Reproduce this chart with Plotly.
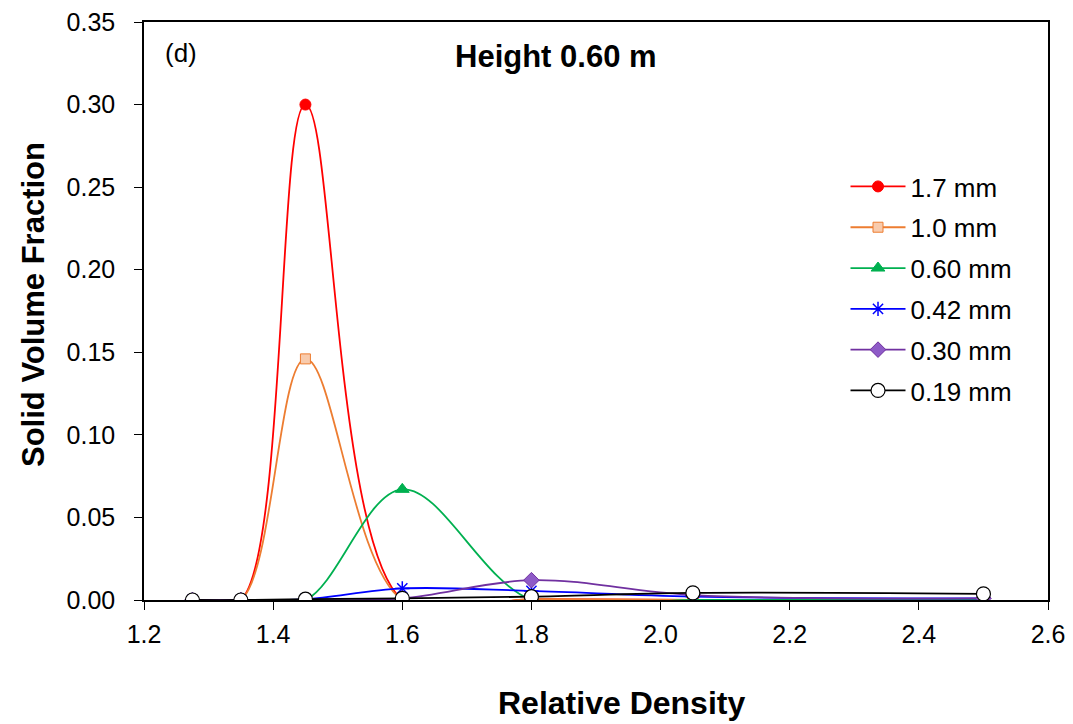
import plotly.graph_objects as go

density = [1.275, 1.35, 1.45, 1.6, 1.8, 2.05, 2.5]
labels = ["1.7 mm", "1.0 mm", "0.60 mm", "0.42 mm", "0.30 mm", "0.19 mm"]
s_17 = [0.0, 0.0, 0.300, 0.0, 0.0005, 0.0, 0.0]
s_10 = [0.0, 0.0, 0.146, 0.0, 0.0005, 0.0, 0.0]
s_060 = [0.0, 0.0, 0.0, 0.067, 0.0, 0.0, 0.0]
s_042 = [0.0, 0.0, 0.0005, 0.007, 0.0055, 0.002, 0.001]
s_030 = [0.0, 0.0, 0.0, 0.001, 0.012, 0.003, 0.001]
s_019 = [0.0, 0.0, 0.0005, 0.001, 0.002, 0.0043, 0.0037]

series = [s_17, s_10, s_060, s_042, s_030, s_019]
line_colors = ["#FF0000", "#ED7D31", "#00B050", "#0000FF", "#7030A0", "#000000"]
markers = [
    dict(symbol="circle", size=11, color="#FF0000", line=dict(color="#FF0000", width=1)),
    dict(symbol="square", size=10, color="#F8CBAD", line=dict(color="#ED7D31", width=1)),
    dict(symbol="triangle-up", size=12, color="#00B050", line=dict(color="#00B050", width=1)),
    dict(symbol="asterisk-open", size=12, color="#0000FF", line=dict(color="#0000FF", width=1.5)),
    dict(symbol="diamond", size=12, color="#8E5BC7", line=dict(color="#7030A0", width=1)),
    dict(symbol="circle", size=14, color="#FFFFFF", line=dict(color="#000000", width=1.2)),
]

fig = go.Figure()
for i, (lab, ys) in enumerate(zip(labels, series)):
    fig.add_trace(go.Scatter(
        x=density, y=ys, name=lab, mode="lines+markers",
        line=dict(color=line_colors[i], width=1.8, shape="spline", smoothing=1.0),
        marker=markers[i], legendgroup=lab,
    ))

pw, ph = 1073 - 144 - 25, 724 - 22 - 124

fig.update_layout(
    width=1073, height=724,
    margin=dict(l=144, r=25, t=22, b=124, autoexpand=False),
    paper_bgcolor="white", plot_bgcolor="white",
    font=dict(family="Liberation Sans, Arial", color="black", size=26),
    showlegend=True,
    legend=dict(x=0.776, y=0.756, xanchor="left", yanchor="top",
                font=dict(size=26), tracegroupgap=4,
                bgcolor="rgba(0,0,0,0)", itemwidth=55),
    xaxis=dict(range=[1.2, 2.6], dtick=0.2, tick0=1.2, tickformat=".1f",
               showgrid=False, zeroline=False, showline=True, linecolor="black",
               linewidth=1.5, mirror=True, ticks="outside", ticklen=8,
               tickcolor="black", tickfont=dict(size=25), ticklabelstandoff=3,
               automargin=False),
    yaxis=dict(range=[0, 0.35], dtick=0.05, tickformat=".2f",
               showgrid=False, zeroline=False, showline=True, linecolor="black",
               linewidth=1.5, mirror=True, ticks="outside", ticklen=8,
               tickcolor="black", tickfont=dict(size=25), ticklabelstandoff=14,
               automargin=False),
    annotations=[
        dict(text="(d)", x=0.021, y=0.947, xref="paper", yref="paper",
             xanchor="left", yanchor="middle", showarrow=False, font=dict(size=26)),
        dict(text="<b>Height 0.60 m</b>", x=0.456, y=0.94, xref="paper", yref="paper",
             xanchor="center", yanchor="middle", showarrow=False, font=dict(size=31)),
        dict(text="<b>Relative Density</b>", x=(621 - 144) / pw, y=(600 - 703) / ph,
             xref="paper", yref="paper", xanchor="center", yanchor="middle",
             showarrow=False, font=dict(size=32)),
        dict(text="<b>Solid Volume Fraction</b>", textangle=-90,
             x=(33 - 144) / pw, y=(600 - 305) / ph, xref="paper", yref="paper",
             xanchor="center", yanchor="middle", showarrow=False, font=dict(size=31)),
    ],
)

fig.write_html("out.html")
